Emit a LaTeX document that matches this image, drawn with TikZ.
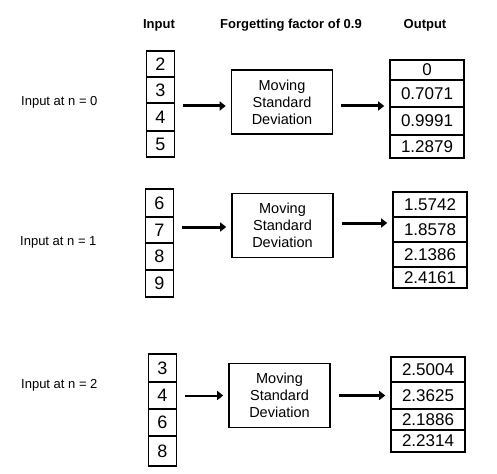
\documentclass[tikz,border=0pt]{standalone}
\usepackage{fontspec}
\setmainfont{Liberation Sans}
\usetikzlibrary{arrows.meta,positioning,calc}
\definecolor{Ink}{HTML}{000000}
\tikzset{
  incell/.style={draw=Ink,line width=1.6pt,minimum width=28pt,inner sep=0pt,font=\fontsize{18}{20}\selectfont},
  outcell/.style={draw=Ink,line width=1.6pt,minimum width=74pt,inner sep=0pt,font=\fontsize{17}{19}\selectfont},
  msdbox/.style={draw=Ink,line width=1.6pt,minimum width=101pt,minimum height=64pt,inner sep=0pt,align=center,font=\fontsize{14.5}{17}\selectfont},
  head/.style={font=\fontsize{13}{15}\selectfont\bfseries},
  rowlabel/.style={anchor=west,inner sep=0pt,font=\fontsize{13}{15}\selectfont},
  flow/.style={draw=Ink,line width=3pt,-{Triangle[length=6pt,width=9pt]},shorten <=8pt,shorten >=5pt}
}
\newcommand{\InCell}[5]{%
  \node[incell,minimum height={(#4-#3)*1pt}] (#1) at (#2,{(#3+#4)/2}) {#5};%
}
\newcommand{\OutCell}[5]{%
  \node[outcell,minimum height={(#4-#3)*1pt}] (#1) at (#2,{(#3+#4)/2}) {#5};%
}
\begin{document}
\begin{tikzpicture}[x=1pt,y=-1pt]
\useasboundingbox (0,0) rectangle (497,473);
% column heads
\node[head] (hin) at (159,25) {Input};
\node[head] (hff) at (291,25) {Forgetting factor of 0.9};
\node[head] (hout) at (425,25) {Output};
% n = 0
\node[rowlabel] (lab0) at (21,102) {Input at n = 0};
\InCell{i0a}{160.5}{51}{77}{2}
\InCell{i0b}{160.5}{77}{103}{3}
\InCell{i0c}{160.5}{103}{131}{4}
\InCell{i0d}{160.5}{131}{157}{5}
\node[msdbox] (msd0) at (282,102) {Moving\\Standard\\Deviation};
\OutCell{o0a}{427}{60}{80}{0}
\OutCell{o0b}{427}{80}{107}{0.7071}
\OutCell{o0c}{427}{107}{135}{0.9991}
\OutCell{o0d}{427}{135}{158}{1.2879}
\draw[flow] ([yshift=-4pt]msd0.west -| i0a.east) -- ([yshift=-4pt]msd0.west);
\draw[flow] ([yshift=-4pt]msd0.east) -- ([yshift=-4pt]msd0.east -| o0a.west);
% n = 1
\node[rowlabel] (lab1) at (20,242) {Input at n = 1};
\InCell{i1a}{159.5}{189}{217}{6}
\InCell{i1b}{159.5}{217}{243}{7}
\InCell{i1c}{159.5}{243}{270}{8}
\InCell{i1d}{159.5}{270}{297}{9}
\node[msdbox] (msd1) at (282.5,225.5) {Moving\\Standard\\Deviation};
\OutCell{o1a}{430}{192}{217}{1.5742}
\OutCell{o1b}{430}{217}{242}{1.8578}
\OutCell{o1c}{430}{242}{267}{2.1386}
\OutCell{o1d}{430}{267}{288}{2.4161}
\draw[flow] ([yshift=-1.5pt]msd1.west -| i1a.east) -- ([yshift=-1.5pt]msd1.west);
\draw[flow] ([yshift=2.5pt]msd1.east) -- ([yshift=2.5pt]msd1.east -| o1a.west);
% n = 2
\node[rowlabel] (lab2) at (21,385) {Input at n = 2};
\InCell{i2a}{162.5}{354}{382}{3}
\InCell{i2b}{162.5}{382}{409}{4}
\InCell{i2c}{162.5}{409}{436}{6}
\InCell{i2d}{162.5}{436}{466}{8}
\node[msdbox] (msd2) at (279.5,395.5) {Moving\\Standard\\Deviation};
\OutCell{o2a}{428}{357}{382}{2.5004}
\OutCell{o2b}{428}{382}{409}{2.3625}
\OutCell{o2c}{428}{409}{430}{2.1886}
\OutCell{o2d}{428}{430}{452}{2.2314}
\draw[flow,line width=2pt] (msd2.west -| i2a.east) -- (msd2.west);
\draw[flow] (msd2.east) -- (msd2.east -| o2a.west);
\end{tikzpicture}
\end{document}
